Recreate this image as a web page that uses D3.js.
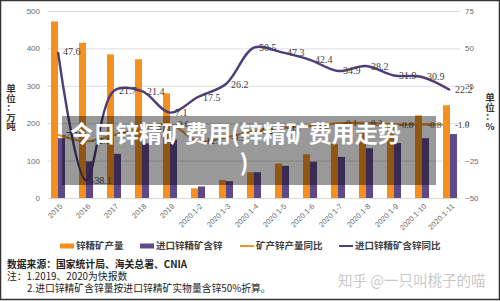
<!DOCTYPE html>
<html>
<head>
<meta charset="utf-8">
<script src="https://cdn.jsdelivr.net/npm/d3@7"></script>
<style>
  body { margin: 0; background: #fff; }
  svg { display: block; }
</style>
</head>
<body>
<svg id="chart" width="500" height="301"></svg>
<script>
const categories = ["2015", "2016", "2017", "2018", "2019", "2020.1-2", "2020.1-3", "2020.1-4",
  "2020.1-5", "2020.1-6", "2020.1-7", "2020.1-8", "2020.1-9", "2020.1-10", "2020.1-11"];
// 锌精矿产量 (万吨)
const output = [472, 415, 384, 371, 280, 26, 48, 69, 92, 117, 144, 176, 200, 221, 248];
// 进口锌精矿含锌 (万吨)
const importZn = [160, 98, 118, 146, 156, 31, 45, 69, 86, 97, 110, 133, 147, 160, 171];
// 矿产锌产量同比 (%)
const outputYoy = [-7.7, -12.1, -7.9, -3.4, -0.6, -12.1, -9.5, -5.2, -3.1, -1.9, -0.1, 0.2, -0.8, -0.8, -1.0];
// 进口锌精矿含锌同比 (%)
const importYoy = [47.6, -38.1, 21.7, 21.4, 7.1, 17.5, 26.2, 50.5, 47.3, 42.4, 34.9, 38.2, 31.9, 30.9, 22.2];
const leftTicks = [0, 100, 200, 300, 400, 500];
const rightTicks = [-50, -25, 0, 25, 50, 75];

const orange = "#f5901f";
const purple = "#5e4a8a";
const lineOrange = "#f0922e";
const linePurple = "#4e3d78";
const cjk = "'Noto Sans CJK SC', sans-serif";
const serif = "'Liberation Serif', 'Times New Roman', serif";

const svg = d3.select("#chart");

svg.append("rect")
  .attr("width", 500).attr("height", 301)
  .attr("fill", "#fff");

const x = d3.scaleBand()
  .domain(categories)
  .range([44, 464])
  .paddingInner(0.5)
  .paddingOuter(0.25);

const xSub = d3.scaleBand()
  .domain(["out", "imp"])
  .range([0, x.bandwidth()]);

const yL = d3.scaleLinear().domain([0, 500]).range([198, 11]);
const yR = d3.scaleLinear().domain([-50, 75]).range([198, 11]);

// gridlines
svg.append("g")
  .selectAll("line")
  .data(leftTicks)
  .join("line")
  .attr("x1", 48).attr("x2", 460)
  .attr("y1", d => yL(d) + 0.5).attr("y2", d => yL(d) + 0.5)
  .attr("stroke", "#dcdcdc")
  .attr("stroke-width", 1);

// left axis
const axL = svg.append("g")
  .attr("transform", "translate(42,0)")
  .call(d3.axisLeft(yL).tickValues(leftTicks).tickSize(0).tickPadding(2));
axL.select(".domain").remove();
axL.selectAll("text")
  .attr("font-family", "'Liberation Sans', sans-serif")
  .attr("font-size", 8)
  .attr("fill", "#6b6b6b");

// right axis
const axR = svg.append("g")
  .attr("transform", "translate(463,0)")
  .call(d3.axisRight(yR).tickValues(rightTicks).tickSize(0).tickPadding(2));
axR.select(".domain").remove();
axR.selectAll("text")
  .attr("font-family", "'Liberation Sans', sans-serif")
  .attr("font-size", 8)
  .attr("fill", "#6b6b6b");

// bars
const groups = svg.append("g")
  .selectAll("g")
  .data(categories)
  .join("g")
  .attr("transform", d => `translate(${x(d)},0)`);

groups.append("rect")
  .attr("x", xSub("out"))
  .attr("width", xSub.bandwidth())
  .attr("y", (d, i) => yL(output[i]))
  .attr("height", (d, i) => yL(0) - yL(output[i]))
  .attr("fill", orange);

groups.append("rect")
  .attr("x", xSub("imp"))
  .attr("width", xSub.bandwidth())
  .attr("y", (d, i) => yL(importZn[i]))
  .attr("height", (d, i) => yL(0) - yL(importZn[i]))
  .attr("fill", purple);

// x axis labels
svg.append("g")
  .selectAll("text")
  .data(categories)
  .join("text")
  .attr("transform", d => `translate(${x(d) + x.bandwidth() / 2 + 3},205) rotate(-45)`)
  .attr("text-anchor", "end")
  .attr("dy", "0.35em")
  .attr("font-family", "'Liberation Sans', sans-serif")
  .attr("font-size", 7.5)
  .attr("fill", "#6b6b6b")
  .text(d => d);

// lines
const cx = d => x(d) + x.bandwidth() / 2;
const line = d3.line().curve(d3.curveCatmullRom.alpha(0.5));

svg.append("path")
  .attr("d", line(categories.map((c, i) => [cx(c), yR(outputYoy[i])])))
  .attr("fill", "none")
  .attr("stroke", lineOrange)
  .attr("stroke-width", 2.2);

svg.append("path")
  .attr("d", line(categories.map((c, i) => [cx(c), yR(importYoy[i])])))
  .attr("fill", "none")
  .attr("stroke", linePurple)
  .attr("stroke-width", 2.4);

// data labels
svg.append("g")
  .selectAll("text")
  .data(categories)
  .join("text")
  .attr("x", d => cx(d) + 5)
  .attr("y", (d, i) => yR(outputYoy[i]))
  .attr("dy", "0.35em")
  .attr("font-family", serif)
  .attr("font-size", 9)
  .attr("fill", "#404040")
  .text((d, i) => outputYoy[i].toFixed(1));

svg.append("g")
  .selectAll("text")
  .data(categories)
  .join("text")
  .attr("x", d => cx(d) + 5)
  .attr("y", (d, i) => yR(importYoy[i]))
  .attr("dy", "0.35em")
  .attr("font-family", serif)
  .attr("font-size", 10)
  .attr("fill", "#404040")
  .text((d, i) => importYoy[i].toFixed(1));

// unit labels (vertical)
const unitL = ["单", "位", "：", "万", "吨"];
svg.append("g")
  .selectAll("text")
  .data(unitL)
  .join("text")
  .attr("x", 11)
  .attr("y", (d, i) => 92 + i * 9.5)
  .attr("text-anchor", "middle")
  .attr("font-family", cjk)
  .attr("font-weight", "bold")
  .attr("font-size", 9.5)
  .attr("fill", "#333")
  .text(d => d);

const unitR = ["单", "位", "：", "%"];
svg.append("g")
  .selectAll("text")
  .data(unitR)
  .join("text")
  .attr("x", 490)
  .attr("y", (d, i) => 101 + i * 9.5)
  .attr("text-anchor", "middle")
  .attr("font-family", cjk)
  .attr("font-weight", "bold")
  .attr("font-size", 9.5)
  .attr("fill", "#333")
  .text(d => d);

// legend
const legend = [
  { name: "锌精矿产量", type: "rect", color: orange, x: 60 },
  { name: "进口锌精矿含锌", type: "rect", color: purple, x: 140 },
  { name: "矿产锌产量同比", type: "line", color: lineOrange, x: 240 },
  { name: "进口锌精矿含锌同比", type: "line", color: linePurple, x: 339 }
];
const lg = svg.append("g")
  .selectAll("g")
  .data(legend)
  .join("g")
  .attr("transform", d => `translate(${d.x},246)`);
lg.filter(d => d.type === "rect").append("rect")
  .attr("x", 0).attr("y", -2.5).attr("width", 14).attr("height", 5)
  .attr("fill", d => d.color);
lg.filter(d => d.type === "line").append("line")
  .attr("x1", 0).attr("x2", 14).attr("y1", 0).attr("y2", 0)
  .attr("stroke", d => d.color).attr("stroke-width", 2);
lg.append("text")
  .attr("x", 16)
  .attr("dy", "0.35em")
  .attr("font-family", cjk)
  .attr("font-size", 9.5)
  .attr("font-weight", "bold")
  .attr("fill", "#404040")
  .text(d => d.name);

// notes
const notes = [
  { t: "数据来源：国家统计局、海关总署、CNIA", x: 7, y: 265, w: "bold" },
  { t: "注：1.2019、2020为快报数", x: 7, y: 277, w: "normal" },
  { t: "2.进口锌精矿含锌量按进口锌精矿实物量含锌50%折算。", x: 27, y: 289, w: "normal" }
];
svg.append("g")
  .selectAll("text")
  .data(notes)
  .join("text")
  .attr("x", d => d.x)
  .attr("y", d => d.y)
  .attr("dy", "0.35em")
  .attr("font-family", cjk)
  .attr("font-size", 9.8)
  .attr("font-weight", d => d.w)
  .attr("fill", "#222")
  .text(d => d.t);

// watermark
svg.append("text")
  .attr("x", 338).attr("y", 281)
  .attr("dy", "0.35em")
  .attr("font-family", cjk)
  .attr("font-size", 14.5)
  .attr("fill", "#c9c9c9")
  .text("知乎 @一只叫桃子的喵");

// title overlay
svg.append("rect")
  .attr("x", 62).attr("y", 116)
  .attr("width", 374).attr("height", 69)
  .attr("fill", "rgba(0,0,0,0.4)");

svg.append("text")
  .attr("x", 70).attr("y", 142)
  .attr("font-family", cjk)
  .attr("font-weight", "bold")
  .attr("font-size", 23)
  .attr("fill", "#fff")
  .text("今日锌精矿费用(锌精矿费用走势");

svg.append("text")
  .attr("x", 244).attr("y", 171)
  .attr("text-anchor", "middle")
  .attr("font-family", cjk)
  .attr("font-weight", "bold")
  .attr("font-size", 23)
  .attr("fill", "#fff")
  .text(")");

// frame
svg.append("rect")
  .attr("x", 0.5).attr("y", 0.5)
  .attr("width", 499).attr("height", 299)
  .attr("fill", "none")
  .attr("stroke", "#333")
  .attr("stroke-width", 1.5);
</script>
</body>
</html>
